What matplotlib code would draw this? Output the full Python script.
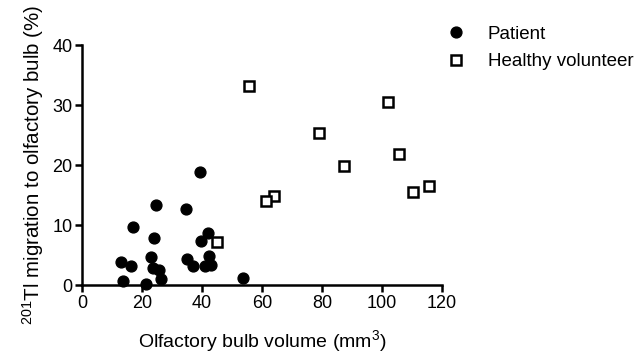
import matplotlib
matplotlib.use("Agg")
import matplotlib.pyplot as plt

plt.rcParams["font.family"] = ["Liberation Sans", "DejaVu Sans"]
plt.rcParams["mathtext.default"] = "regular"

# patients: olfactory bulb volume (mm3) vs 201Tl migration (%)
patient_volume = [39.3, 24.6, 34.6, 17.0, 24.0, 42.1, 39.7, 23.1, 12.9, 16.4, 23.7,
                  25.6, 35.0, 37.1, 42.3, 40.9, 42.9, 13.6, 21.3, 26.3, 53.6]
patient_migration = [18.8, 13.3, 12.7, 9.7, 7.9, 8.6, 7.3, 4.7, 3.8, 3.2, 2.9,
                     2.5, 4.4, 3.2, 4.9, 3.1, 3.3, 0.7, 0.1, 1.0, 1.1]

# healthy volunteers
healthy_volume = [55.7, 102.0, 79.0, 105.9, 87.4, 115.9, 110.4, 64.0, 61.4, 44.9]
healthy_migration = [33.2, 30.6, 25.4, 21.9, 19.9, 16.6, 15.6, 14.9, 14.0, 7.1]

x_ticks = [0, 20, 40, 60, 80, 100, 120]
y_ticks = [0, 10, 20, 30, 40]

fig = plt.figure(figsize=(6.39, 3.56), dpi=100)
ax = fig.add_axes([0.1288, 0.1994, 0.5624, 0.6734])

ax.plot(patient_volume, patient_migration, "o", color="black", markersize=7.8,
        linestyle="none", label="Patient", clip_on=False)
ax.plot(healthy_volume, healthy_migration, "s", color="black", markerfacecolor="white",
        markersize=7.2, markeredgewidth=1.8, linestyle="none",
        label="Healthy volunteer", clip_on=False)

ax.set_xlim(0, 120)
ax.set_ylim(0, 40)
ax.set_xticks(x_ticks)
ax.set_yticks(y_ticks)
ax.tick_params(direction="out", length=5, width=1.8, labelsize=13, pad=2)
for side in ["top", "right"]:
    ax.spines[side].set_visible(False)
for side in ["left", "bottom"]:
    ax.spines[side].set_linewidth(1.8)

ax.set_xlabel("Olfactory bulb volume (mm$^3$)", fontsize=14, labelpad=12)
ax.set_ylabel("$^{201}$Tl migration to olfactory bulb (%)", fontsize=14.8, labelpad=5)

fig.legend(loc="upper left", bbox_to_anchor=(0.672, 0.975), frameon=False, fontsize=13.5,
           handlelength=1.0, handletextpad=1.2, labelspacing=0.55)

fig.savefig("out.png", dpi=100)
